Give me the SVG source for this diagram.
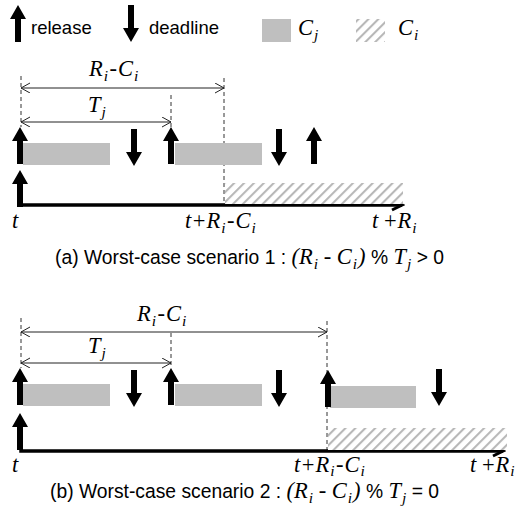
<svg xmlns="http://www.w3.org/2000/svg" xmlns:xlink="http://www.w3.org/1999/xlink" width="518" height="522" viewBox="0 0 518 522">
<style>
.t{font-family:"Liberation Sans",Arial,sans-serif;font-size:18.5px;fill:#000}
.cap{font-size:19.3px}
.m{font-family:"Liberation Serif","Times New Roman",serif;font-style:italic;font-size:22.5px;fill:#000}
.mu{font-family:"Liberation Serif","Times New Roman",serif;font-style:normal}
.sub{font-size:15.5px}
.dash{stroke:#333;stroke-width:1;stroke-dasharray:4,3;fill:none}
.dim{stroke:#222;stroke-width:1;fill:none}
.axis{stroke:#000;stroke-width:3.5;fill:none}
.cj{fill:#bfbfbf}
.ci{fill:url(#hatch)}
</style>
<defs>
<pattern id="hatch" patternUnits="userSpaceOnUse" width="7" height="7" patternTransform="rotate(45)">
<rect width="7" height="7" fill="#fff"/>
<line x1="0" y1="0" x2="0" y2="7" stroke="#b8b8b8" stroke-width="4.2"/>
</pattern>
<polygon id="up" points="0,0 8,14 3,14 3,37 -3,37 -3,14 -8,14" fill="#000"/>
<polygon id="down" points="0,0 -8,-14 -3,-14 -3,-37 3,-37 3,-14 8,-14" fill="#000"/>
<marker id="open" markerWidth="12" markerHeight="12" refX="9" refY="5" orient="auto-start-reverse" markerUnits="userSpaceOnUse">
<path d="M0,0 L9,5 L0,10" fill="none" stroke="#222" stroke-width="1"/>
</marker>
<marker id="axhead" markerWidth="14" markerHeight="14" refX="11" refY="6" orient="auto" markerUnits="userSpaceOnUse">
<path d="M1,1 L11,6 L1,11" fill="none" stroke="#000" stroke-width="3"/>
</marker>
</defs>
<rect width="518" height="522" fill="#fff"/>

<g id="legend">
<use xlink:href="#up" x="18" y="5"/>
<text class="t" x="31" y="34">release</text>
<use xlink:href="#down" x="131" y="42"/>
<text class="t" x="149" y="34">deadline</text>
<rect class="cj" x="262" y="19" width="29" height="23"/>
<text class="m" x="298" y="35">C<tspan class="sub" dx="1" dy="5">j</tspan></text>
<rect class="ci" x="356" y="19" width="29" height="23"/>
<text class="m" x="398" y="35">C<tspan class="sub" dx="1" dy="5">i</tspan></text>
</g>

<g id="connectors">
<line class="dash" x1="21" y1="76" x2="21" y2="127"/>
<line class="dash" x1="224" y1="78" x2="224" y2="205"/>
<line class="dash" x1="171" y1="95" x2="171" y2="127"/>
<line class="dim" x1="21" y1="88" x2="224" y2="88" marker-start="url(#open)" marker-end="url(#open)"/>
<line class="dim" x1="21" y1="122" x2="171" y2="122" marker-start="url(#open)" marker-end="url(#open)"/>
<path class="axis" d="M21,180 L21,205 L402,205" marker-end="url(#axhead)"/>
<line class="dash" x1="21" y1="318" x2="21" y2="368"/>
<line class="dash" x1="327" y1="321" x2="327" y2="451"/>
<line class="dash" x1="171" y1="333" x2="171" y2="368"/>
<line class="dim" x1="21" y1="332" x2="327" y2="332" marker-start="url(#open)" marker-end="url(#open)"/>
<line class="dim" x1="21" y1="363" x2="171" y2="363" marker-start="url(#open)" marker-end="url(#open)"/>
<path class="axis" d="M21,425 L21,451 L503,451" marker-end="url(#axhead)"/>
</g>

<g id="scenario-a">
<text class="m" x="89" y="76">R<tspan class="sub" dx="1" dy="5">i</tspan><tspan class="mu" dx="1.5" dy="-5">-</tspan><tspan dx="1">C</tspan><tspan class="sub" dx="1" dy="5">i</tspan></text>
<text class="m" x="88" y="112">T<tspan class="sub" dx="1" dy="5">j</tspan></text>
<rect class="cj" x="23" y="143" width="87" height="22"/>
<rect class="cj" x="175" y="143" width="87" height="22"/>
<rect class="ci" x="225" y="183" width="178" height="21"/>
<use xlink:href="#up" x="20" y="127"/>
<use xlink:href="#down" x="134" y="166"/>
<use xlink:href="#up" x="171" y="127"/>
<use xlink:href="#down" x="279" y="166"/>
<use xlink:href="#up" x="314" y="127"/>
<use xlink:href="#up" x="20" y="170"/>
<text class="m" x="12" y="228">t</text>
<text class="m" x="185" y="228">t<tspan class="mu" dx="1.5">+</tspan><tspan dx="1">R</tspan><tspan class="sub" dx="1" dy="5">i</tspan><tspan class="mu" dx="1.5" dy="-5">-</tspan><tspan dx="1">C</tspan><tspan class="sub" dx="1" dy="5">i</tspan></text>
<text class="m" x="372" y="228">t <tspan class="mu">+</tspan><tspan dx="1">R</tspan><tspan class="sub" dx="1" dy="5">i</tspan></text>
<text class="t cap" x="55" y="264">(a) Worst-case scenario 1 : <tspan class="m">(R<tspan class="sub" dx="1" dy="5">i</tspan><tspan dy="-5"> - </tspan>C<tspan class="sub" dx="1" dy="5">i</tspan><tspan dx="1" dy="-5">)</tspan></tspan> % <tspan class="m">T<tspan class="sub" dx="1" dy="5">j</tspan></tspan><tspan dy="-5"> &gt; 0</tspan></text>
</g>

<g id="scenario-b">
<text class="m" x="137" y="321">R<tspan class="sub" dx="1" dy="5">i</tspan><tspan class="mu" dx="1.5" dy="-5">-</tspan><tspan dx="1">C</tspan><tspan class="sub" dx="1" dy="5">i</tspan></text>
<text class="m" x="88" y="353">T<tspan class="sub" dx="1" dy="5">j</tspan></text>
<rect class="cj" x="23" y="384" width="87" height="22"/>
<rect class="cj" x="175" y="384" width="87" height="22"/>
<rect class="cj" x="330" y="386" width="86" height="22"/>
<rect class="ci" x="328" y="428" width="179" height="22"/>
<use xlink:href="#up" x="20" y="368"/>
<use xlink:href="#down" x="134" y="407"/>
<use xlink:href="#up" x="171" y="368"/>
<use xlink:href="#down" x="279" y="407"/>
<use xlink:href="#up" x="328" y="370"/>
<use xlink:href="#down" x="439" y="406"/>
<use xlink:href="#up" x="20" y="413"/>
<text class="m" x="12" y="472">t</text>
<text class="m" x="294" y="472">t<tspan class="mu" dx="1.5">+</tspan><tspan dx="1">R</tspan><tspan class="sub" dx="1" dy="4">i</tspan><tspan class="mu" dx="1.5" dy="-4">-</tspan><tspan dx="1">C</tspan><tspan class="sub" dx="1" dy="4">i</tspan></text>
<text class="m" x="470" y="472">t <tspan class="mu">+</tspan><tspan dx="1">R</tspan><tspan class="sub" dx="1" dy="4">i</tspan></text>
<text class="t cap" x="50" y="498">(b) Worst-case scenario 2 : <tspan class="m">(R<tspan class="sub" dx="1" dy="5">i</tspan><tspan dy="-5"> - </tspan>C<tspan class="sub" dx="1" dy="5">i</tspan><tspan dx="1" dy="-5">)</tspan></tspan> % <tspan class="m">T<tspan class="sub" dx="1" dy="5">j</tspan></tspan><tspan dy="-5"> = 0</tspan></text>
</g>
</svg>
